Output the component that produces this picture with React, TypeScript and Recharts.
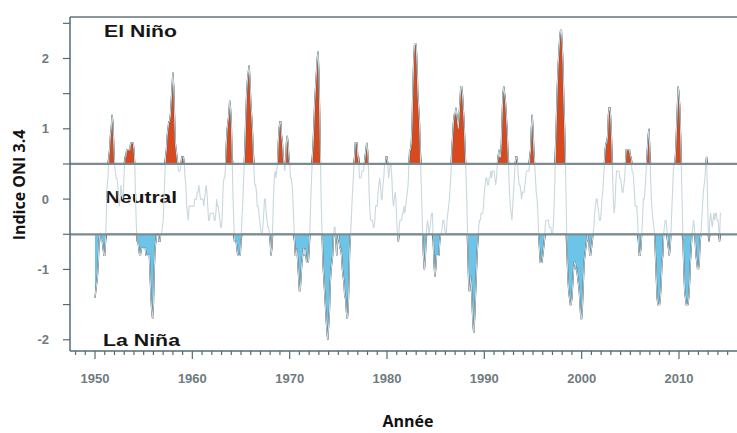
import React from "react";
import { ComposedChart, Line, Area, XAxis, YAxis, ReferenceLine } from "recharts";

// ONI 3.4 (3-month running mean), monthly from Jan 1950
const oni1950s = [
  -1.4, -1.3, -1.2, -1.1, -0.9, -0.6, -0.5, -0.5, -0.6, -0.6, -0.7, -0.8,
  -0.8, -0.6, -0.2, 0.2, 0.3, 0.6, 0.7, 0.9, 1.0, 1.2, 1.1, 0.8,
  0.5, 0.4, 0.3, 0.3, 0.2, 0.0, -0.1, 0.0, 0.2, 0.1, 0.0, 0.1,
  0.4, 0.6, 0.6, 0.7, 0.7, 0.7, 0.7, 0.7, 0.8, 0.8, 0.8, 0.8,
  0.7, 0.5, 0.0, -0.4, -0.6, -0.6, -0.7, -0.8, -0.8, -0.7, -0.7, -0.7,
  -0.7, -0.7, -0.7, -0.8, -0.8, -0.8, -0.8, -0.8, -1.1, -1.4, -1.6, -1.7,
  -1.5, -1.0, -0.7, -0.6, -0.5, -0.5, -0.5, -0.6, -0.6, -0.5, -0.5, -0.4,
  -0.3, 0.0, 0.3, 0.6, 0.7, 0.9, 1.0, 1.1, 1.1, 1.2, 1.4, 1.6,
  1.8, 1.6, 1.2, 0.8, 0.7, 0.6, 0.5, 0.4, 0.4, 0.4, 0.5, 0.6,
  0.6, 0.6, 0.5, 0.3, 0.2, -0.1, -0.2, -0.3, -0.1, -0.1, -0.1, -0.1,
];
const oni1960s = [
  -0.1, -0.1, -0.1, 0.0, 0.0, 0.0, 0.1, 0.1, 0.2, 0.1, 0.0, 0.0,
  0.0, 0.0, -0.1, 0.0, 0.1, 0.2, 0.1, -0.1, -0.3, -0.3, -0.2, -0.2,
  -0.2, -0.2, -0.2, -0.3, -0.3, -0.2, 0.0, -0.1, -0.1, -0.2, -0.3, -0.4,
  -0.4, -0.2, 0.2, 0.3, 0.3, 0.5, 0.8, 1.0, 1.1, 1.2, 1.4, 1.3,
  1.1, 0.6, 0.1, -0.3, -0.6, -0.6, -0.6, -0.7, -0.8, -0.8, -0.8, -0.8,
  -0.6, -0.3, -0.1, 0.2, 0.5, 0.8, 1.2, 1.5, 1.7, 1.8, 1.9, 1.7,
  1.4, 1.2, 1.0, 0.7, 0.4, 0.2, 0.2, 0.1, -0.1, -0.1, -0.2, -0.3,
  -0.4, -0.5, -0.5, -0.4, -0.2, 0.0, 0.0, -0.2, -0.3, -0.4, -0.4, -0.5,
  -0.6, -0.8, -0.7, -0.4, 0.0, 0.3, 0.4, 0.3, 0.4, 0.5, 0.8, 1.0,
  1.1, 1.1, 0.9, 0.8, 0.6, 0.5, 0.4, 0.5, 0.8, 0.9, 0.8, 0.6,
];
const oni1970s = [
  0.5, 0.3, 0.3, 0.2, 0.0, -0.3, -0.6, -0.8, -0.8, -0.7, -0.9, -1.1,
  -1.3, -1.3, -1.1, -0.9, -0.8, -0.7, -0.8, -0.7, -0.8, -0.9, -0.9, -0.9,
  -0.7, -0.4, 0.0, 0.3, 0.6, 0.8, 1.1, 1.4, 1.6, 1.8, 2.0, 2.1,
  1.8, 1.2, 0.5, -0.1, -0.5, -0.9, -1.1, -1.3, -1.5, -1.7, -1.9, -2.0,
  -1.8, -1.6, -1.2, -1.0, -0.9, -0.8, -0.5, -0.4, -0.4, -0.6, -0.8, -0.6,
  -0.5, -0.6, -0.7, -0.7, -0.8, -1.0, -1.1, -1.2, -1.4, -1.4, -1.6, -1.7,
  -1.6, -1.2, -0.7, -0.5, -0.3, 0.0, 0.2, 0.4, 0.6, 0.8, 0.8, 0.8,
  0.6, 0.6, 0.3, 0.3, 0.3, 0.4, 0.4, 0.4, 0.5, 0.6, 0.7, 0.8,
  0.7, 0.5, 0.1, -0.2, -0.3, -0.3, -0.3, -0.4, -0.4, -0.3, -0.1, -0.1,
  -0.1, 0.1, 0.2, 0.3, 0.2, 0.0, 0.0, 0.2, 0.3, 0.5, 0.5, 0.6,
];
const oni1980s = [
  0.6, 0.5, 0.3, 0.4, 0.5, 0.5, 0.3, 0.0, -0.1, 0.0, 0.1, 0.0,
  -0.3, -0.5, -0.6, -0.4, -0.3, -0.3, -0.3, -0.2, -0.2, -0.1, -0.2, -0.1,
  0.0, 0.1, 0.2, 0.5, 0.7, 0.7, 0.8, 1.1, 1.6, 2.0, 2.2, 2.2,
  2.2, 1.9, 1.5, 1.3, 1.1, 0.7, 0.3, -0.1, -0.5, -0.8, -1.0, -0.9,
  -0.6, -0.4, -0.3, -0.4, -0.5, -0.4, -0.3, -0.2, -0.2, -0.6, -0.9, -1.1,
  -1.0, -0.8, -0.8, -0.8, -0.8, -0.6, -0.5, -0.5, -0.4, -0.3, -0.3, -0.4,
  -0.5, -0.5, -0.3, -0.2, -0.1, 0.0, 0.2, 0.4, 0.7, 0.9, 1.1, 1.2,
  1.2, 1.3, 1.2, 1.1, 1.0, 1.2, 1.4, 1.6, 1.6, 1.5, 1.3, 1.1,
  0.8, 0.5, 0.1, -0.3, -0.9, -1.3, -1.3, -1.1, -1.2, -1.5, -1.8, -1.9,
  -1.7, -1.4, -1.1, -0.8, -0.6, -0.4, -0.3, -0.3, -0.2, -0.2, -0.2, -0.1,
];
const oni1990s = [
  0.1, 0.2, 0.3, 0.3, 0.2, 0.2, 0.3, 0.3, 0.4, 0.3, 0.4, 0.4,
  0.4, 0.3, 0.2, 0.3, 0.5, 0.6, 0.7, 0.6, 0.6, 0.8, 1.2, 1.5,
  1.6, 1.5, 1.4, 1.2, 1.0, 0.7, 0.4, 0.1, -0.1, -0.2, -0.3, -0.1,
  0.1, 0.3, 0.5, 0.6, 0.6, 0.5, 0.3, 0.2, 0.2, 0.1, 0.0, 0.1,
  0.1, 0.1, 0.2, 0.3, 0.4, 0.4, 0.4, 0.4, 0.6, 0.7, 1.0, 1.2,
  1.0, 0.7, 0.5, 0.3, 0.1, 0.0, -0.2, -0.5, -0.7, -0.9, -0.9, -0.9,
  -0.8, -0.7, -0.6, -0.4, -0.3, -0.3, -0.3, -0.3, -0.4, -0.4, -0.4, -0.5,
  -0.5, -0.4, -0.1, 0.3, 0.8, 1.2, 1.6, 1.9, 2.1, 2.3, 2.4, 2.4,
  2.2, 1.9, 1.4, 1.0, 0.5, -0.1, -0.8, -1.1, -1.3, -1.4, -1.5, -1.5,
  -1.4, -1.2, -1.0, -0.9, -0.9, -1.0, -1.0, -1.1, -1.2, -1.3, -1.5, -1.7,
];
const oni2000s = [
  -1.7, -1.5, -1.2, -0.9, -0.8, -0.7, -0.6, -0.5, -0.6, -0.6, -0.8, -0.8,
  -0.7, -0.6, -0.5, -0.4, -0.2, -0.1, 0.0, 0.0, -0.1, -0.2, -0.3, -0.3,
  -0.2, 0.0, 0.1, 0.3, 0.5, 0.7, 0.8, 0.8, 0.9, 1.2, 1.3, 1.3,
  1.1, 0.8, 0.4, 0.0, -0.2, -0.1, 0.2, 0.4, 0.4, 0.4, 0.4, 0.3,
  0.3, 0.2, 0.1, 0.1, 0.2, 0.3, 0.5, 0.7, 0.7, 0.7, 0.7, 0.7,
  0.6, 0.6, 0.4, 0.4, 0.3, 0.1, -0.1, -0.1, -0.1, -0.3, -0.6, -0.8,
  -0.8, -0.7, -0.5, -0.3, 0.0, 0.0, 0.1, 0.3, 0.5, 0.7, 0.9, 1.0,
  0.7, 0.3, 0.0, -0.2, -0.3, -0.4, -0.5, -0.8, -1.1, -1.4, -1.5, -1.5,
  -1.5, -1.4, -1.2, -0.9, -0.8, -0.5, -0.4, -0.3, -0.3, -0.4, -0.6, -0.7,
  -0.8, -0.7, -0.5, -0.2, 0.1, 0.4, 0.5, 0.5, 0.7, 1.0, 1.3, 1.6,
];
const oni2010s = [
  1.5, 1.3, 0.9, 0.4, -0.1, -0.6, -1.0, -1.3, -1.4, -1.5, -1.5, -1.5,
  -1.4, -1.2, -0.9, -0.7, -0.5, -0.4, -0.3, -0.4, -0.6, -0.8, -0.9, -1.0,
  -1.0, -0.9, -0.6, -0.5, -0.3, -0.1, 0.1, 0.2, 0.3, 0.5, 0.6, 0.1,
  -0.4, -0.6, -0.3, -0.2, -0.3, -0.4, -0.3, -0.2, -0.3, -0.2, -0.2, -0.3,
  -0.3, -0.4, -0.6, -0.2, -0.2,
];

const START_YEAR = 1950;
const X_DOMAIN: [number, number] = [1947.43, 2015.96];
const Y_MIN = -2.16;
const Y_MAX = 2.59;
const EL_NINO = 0.5;
const LA_NINA = -0.5;
const yTicks = [-2, -1.5, -1, -0.5, 0, 0.5, 1, 1.5, 2, 2.5];
const xTicks = Array.from({ length: 68 }, (_, i) => 1948 + i);

const oniValues = [
  ...oni1950s, ...oni1960s, ...oni1970s, ...oni1980s, ...oni1990s, ...oni2000s, ...oni2010s,
];

const data = oniValues.map((v, i) => ({
  t: START_YEAR + i / 12,
  v,
  pos: Math.max(v, EL_NINO),
  neg: Math.min(v, LA_NINA),
}));

const AXIS_COLOR = "#556c76";
const TICK_TEXT = "#6f7b80";

const XTick = (props: any) => {
  const { x, y, payload } = props;
  const yr = payload.value as number;
  const major = yr % 10 === 0;
  return (
    <g>
      <line x1={x} x2={x} y1={y} y2={y + (major ? 8 : 4)} stroke={AXIS_COLOR} strokeWidth={1.2} />
      {major && (
        <text
          x={x}
          y={y + 32}
          textAnchor="middle"
          fontFamily="Liberation Sans, Arial, sans-serif"
          fontWeight="bold"
          fontSize={13}
          fill={TICK_TEXT}
        >
          {yr}
        </text>
      )}
    </g>
  );
};

const YTick = (props: any) => {
  const { x, y, payload } = props;
  const val = payload.value as number;
  const isInt = Number.isInteger(val);
  return (
    <g>
      <line x1={x - 7} x2={x} y1={y} y2={y} stroke={AXIS_COLOR} strokeWidth={1.2} />
      {isInt && (
        <text
          x={x - 21}
          y={y + 4.5}
          textAnchor="end"
          fontFamily="Liberation Sans, Arial, sans-serif"
          fontWeight="bold"
          fontSize={13}
          fill={TICK_TEXT}
        >
          {val}
        </text>
      )}
    </g>
  );
};

const regionText = {
  fontFamily: "Liberation Sans, Arial, sans-serif",
  fontWeight: "bold" as const,
  fontSize: 17,
  fill: "#161616",
};

export default function App() {
  return (
    <div style={{ position: "absolute", left: 0, top: 0, width: 737, height: 433, background: "#fff" }}>
      <ComposedChart
        width={737}
        height={433}
        data={data}
        margin={{ top: 17, right: 0, bottom: 0, left: 0 }}
      >
        <XAxis
          type="number"
          dataKey="t"
          domain={X_DOMAIN}
          allowDataOverflow
          ticks={xTicks}
          interval={0}
          tickLine={false}
          tickSize={0}
          tickMargin={0}
          tick={<XTick />}
          height={82}
          axisLine={{ stroke: AXIS_COLOR, strokeWidth: 1.5 }}
        />
        <YAxis
          type="number"
          domain={[Y_MIN, Y_MAX]}
          allowDataOverflow
          ticks={yTicks}
          interval={0}
          width={70}
          tickLine={false}
          tickSize={0}
          tickMargin={0}
          tick={<YTick />}
          axisLine={{ stroke: AXIS_COLOR, strokeWidth: 1.5 }}
        />
        <Line
          type="linear"
          dataKey="v"
          stroke="#c9d8de"
          strokeWidth={1.1}
          dot={false}
          isAnimationActive={false}
        />
        <Area
          type="linear"
          dataKey="pos"
          baseValue={EL_NINO}
          fill="#d8491d"
          fillOpacity={1}
          stroke="#1f2a2e"
          strokeWidth={1.3}
          dot={false}
          activeDot={false}
          isAnimationActive={false}
        />
        <Area
          type="linear"
          dataKey="neg"
          baseValue={LA_NINA}
          fill="#6cc4e8"
          fillOpacity={1}
          stroke="#1f2a2e"
          strokeWidth={1.3}
          dot={false}
          activeDot={false}
          isAnimationActive={false}
        />
        <ReferenceLine y={EL_NINO} stroke="#7a8b92" strokeWidth={2.2} />
        <ReferenceLine y={LA_NINA} stroke="#7a8b92" strokeWidth={2.2} />
        <ReferenceLine y={Y_MAX} stroke="#8a979c" strokeWidth={2.2} />
        <text x={104} y={37} textLength={73} lengthAdjust="spacingAndGlyphs" {...regionText}>
          El Niño
        </text>
        <text x={105} y={203} textLength={72} lengthAdjust="spacingAndGlyphs" {...regionText}>
          Neutral
        </text>
        <text x={103} y={346} textLength={77} lengthAdjust="spacingAndGlyphs" {...regionText}>
          La Niña
        </text>
        <text
          x={19}
          y={185}
          transform="rotate(-90 19 185)"
          textAnchor="middle"
          dominantBaseline="central"
          fontFamily="Open Sans, sans-serif"
          fontWeight="bold"
          fontSize={16}
          fill="#111"
        >
          Indice ONI 3.4
        </text>
        <text
          x={408}
          y={427}
          textAnchor="middle"
          fontFamily="Open Sans, sans-serif"
          fontWeight="bold"
          fontSize={16}
          fill="#111"
        >
          Année
        </text>
      </ComposedChart>
    </div>
  );
}
